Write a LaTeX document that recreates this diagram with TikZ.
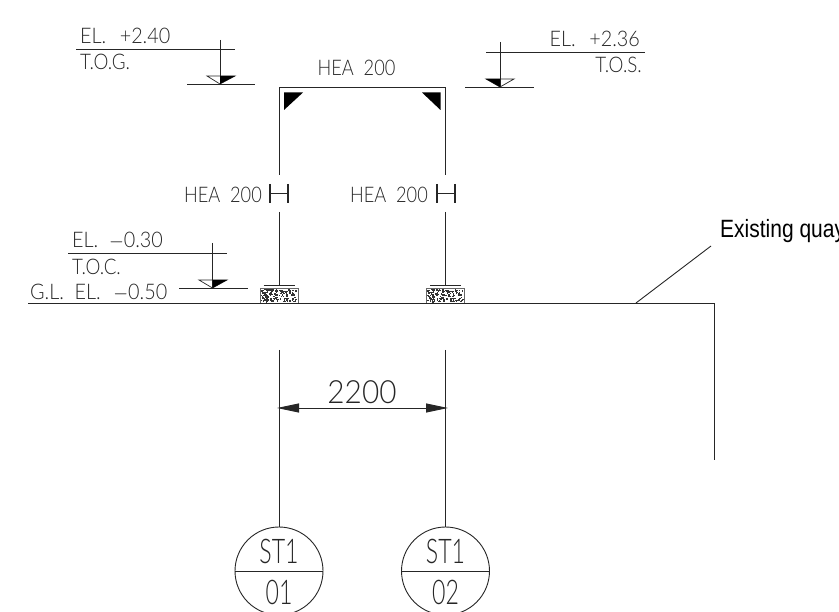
\documentclass[tikz,border=0pt]{standalone}
\usepackage{fontspec}
\setmainfont{Lato Light}
\newfontfamily\leaderfont{Liberation Sans}
\usetikzlibrary{arrows.meta,positioning}

\tikzset{
  cadline/.style={line width=0.9pt,black!85},
  cadtext/.style={inner sep=0pt,xscale=.92,font=\fontsize{21.5}{22}\selectfont,text=black!85},
  shorttext/.style={cadtext,xscale=.95},
  sectext/.style={cadtext,xscale=.92},
  bigtext/.style={inner sep=0pt,xscale=.68,font=\fontsize{34}{34}\selectfont,text=black!85},
  dimtext/.style={inner sep=0pt,xscale=.93,font=\fontsize{32}{32}\selectfont,text=black!85},
  bubble/.style={circle,draw,cadline,minimum size=88pt,inner sep=0pt},
  footing/.style={draw=black!60,line width=0.6pt,fill=white},
  dimtip/.style={{Triangle[length=22pt,width=9pt]}-{Triangle[length=22pt,width=9pt]}}
}

\begin{document}
\begin{tikzpicture}[x=1pt,y=-1pt]
    \useasboundingbox (0,0) rectangle (839,612);

    % frame and columns
    \coordinate (c1top)  at (279,87);
    \coordinate (c2top)  at (445.5,87);
    \coordinate (c1a)    at (279,175);
    \coordinate (c2a)    at (445.5,175);
    \coordinate (c1b)    at (279,212);
    \coordinate (c2b)    at (445.5,212);
    \coordinate (c1base) at (279,285.5);
    \coordinate (c2base) at (445.5,285.5);
    \coordinate (c1low)  at (279,350);
    \coordinate (c2low)  at (445.5,350);

    \draw[cadline] (c1a) -- (c1top) -- (c2top) -- (c2a);
    \draw[cadline] (c1b) -- (c1base);
    \draw[cadline] (c2b) -- (c2base);
    \fill (284,92.5) -- (303,92.5) -- (284,110) -- cycle;
    \fill (422,92.5) -- (440.5,92.5) -- (440.5,110) -- cycle;

    % base plates and footings
    \foreach \cx/\fname in {279/f1,445.5/f2} {
      \draw[cadline,line width=1.3pt] (\cx-15.5,285.5) -- (\cx+15.5,285.5);
      \node[footing,minimum width=38pt,minimum height=15pt,inner sep=0pt] (\fname) at (\cx,295.5) {};
      \pgfmathsetseed{7}
      \foreach \i in {1,...,150}
        \fill[black!80] (\cx-18.5+rnd*35.5,288.5+rnd*12.8) rectangle +(1.4,1.4);
    }

    % quay edge
    \coordinate (glstart) at (28,303);
    \coordinate (quaytop) at (714,303);
    \coordinate (quayend) at (714,460);
    \draw[cadline] (glstart) -- (quaytop) -- (quayend);
    \coordinate (leadfoot) at (636,303);
    \coordinate (leadend)  at (711,246);
    \draw[cadline] (leadfoot) -- (leadend);
    \node[anchor=base west,inner sep=0pt,xscale=.84,font=\leaderfont\fontsize{25}{25}\selectfont] (quay) at (720,238) {Existing quay};

    % section labels
    \node[sectext] (topsec) at (356.5,68) {HEA\ \ 200};
    \node[sectext,anchor=east] (leftsec) at (262,195) {HEA\ \ 200};
    \node[sectext,anchor=east] (rightsec) at (428,195) {HEA\ \ 200};
    \foreach \fx in {270,437} {
      \draw[cadline,line width=1.1pt] (\fx,184) -- (\fx,203);
      \draw[cadline,line width=1.1pt] (\fx+18,184) -- (\fx+18,203);
      \draw[cadline,line width=1.1pt] (\fx,193.5) -- (\fx+18,193.5);
    }

    % level T.O.G.
    \draw[cadline] (76,49) -- (235,49);
    \draw[cadline] (187,84) -- (255,84);
    \draw[cadline] (220,40) -- (220,84);
    \draw[cadline,line width=0.7pt] (207,76) -- (235,76) -- (220,84) -- cycle;
    \fill (220,76) -- (235,76) -- (220,84) -- cycle;
    \node[cadtext,anchor=base west] (tog1) at (80,44) {EL.\ \ \hspace{3pt}+2.40};
    \node[shorttext,anchor=base west] (tog2) at (80,70) {T.O.G.};

    % level T.O.S.
    \draw[cadline] (486,52.5) -- (645,52.5);
    \draw[cadline] (465,87) -- (534,87);
    \draw[cadline] (500,42) -- (500,87);
    \draw[cadline,line width=0.7pt] (486,79) -- (514,79) -- (500,87) -- cycle;
    \fill (486,79) -- (500,79) -- (500,87) -- cycle;
    \node[cadtext,anchor=base east] (tos1) at (640,47) {EL.\ \ \hspace{3pt}+2.36};
    \node[shorttext,anchor=base east] (tos2) at (642,73) {T.O.S.};

    % level T.O.C.
    \draw[cadline] (68,253.5) -- (227,253.5);
    \draw[cadline] (179,288) -- (248,288);
    \draw[cadline] (212.5,243) -- (212.5,288);
    \draw[cadline,line width=0.7pt] (199,280) -- (227,280) -- (212.5,288) -- cycle;
    \fill (212.5,280) -- (227,280) -- (212.5,288) -- cycle;
    \node[cadtext,anchor=base west] (toc1) at (72,248) {EL.\ \ $-$0.30};
    \node[shorttext,anchor=base west] (toc2) at (72,275) {T.O.C.};
    \node[cadtext,anchor=base west] (gl) at (30,299.5) {G.L.\ \ EL.\ \ \hspace{2pt}$-$0.50};

    % grid bubbles
    \node[bubble] (st1) at (279,571) {};
    \node[bubble] (st2) at (445.5,571) {};
    \draw[cadline] (st1.west) -- (st1.east);
    \draw[cadline] (st2.west) -- (st2.east);
    \draw[cadline] (c1low) -- (st1.north);
    \draw[cadline] (c2low) -- (st2.north);
    \node[bigtext] (st1a) at (279,551) {ST1};
    \node[bigtext] (st2a) at (445.5,551) {ST1};
    \node[bigtext] (st1b) at (279,592) {01};
    \node[bigtext] (st2b) at (445.5,592) {02};

    % dimension
    \coordinate (dim1) at (277,408);
    \coordinate (dim2) at (448,408);
    \draw[cadline,dimtip] (dim1) -- (dim2);
    \node[dimtext] (dimlabel) at (362,392) {2200};

\end{tikzpicture}
\end{document}
